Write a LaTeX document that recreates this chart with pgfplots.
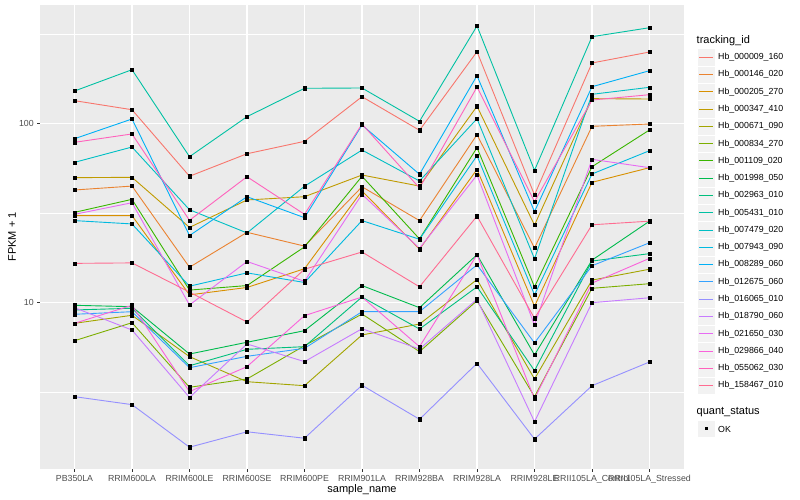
\documentclass[border=0pt]{standalone}
\usepackage{fontspec}
\setmainfont{Liberation Sans}
\usepackage{pgfplots}
\usepackage{pgfplotstable}
\pgfplotsset{compat=1.18}

\definecolor{ggpanel}{HTML}{EBEBEB}
\definecolor{ggkey}{HTML}{F2F2F2}
\definecolor{gg30}{HTML}{4D4D4D}
\definecolor{gg20}{HTML}{333333}
\definecolor{c1}{HTML}{F8766D}
\definecolor{c2}{HTML}{EA8331}
\definecolor{c3}{HTML}{D89000}
\definecolor{c4}{HTML}{C09B00}
\definecolor{c5}{HTML}{A3A500}
\definecolor{c6}{HTML}{7CAE00}
\definecolor{c7}{HTML}{39B600}
\definecolor{c8}{HTML}{00BB4E}
\definecolor{c9}{HTML}{00BF7D}
\definecolor{c10}{HTML}{00C1A3}
\definecolor{c11}{HTML}{00BFC4}
\definecolor{c12}{HTML}{00BAE0}
\definecolor{c13}{HTML}{00B0F6}
\definecolor{c14}{HTML}{35A2FF}
\definecolor{c15}{HTML}{9590FF}
\definecolor{c16}{HTML}{C77CFF}
\definecolor{c17}{HTML}{E76BF3}
\definecolor{c18}{HTML}{FA62DB}
\definecolor{c19}{HTML}{FF62BC}
\definecolor{c20}{HTML}{FF6C91}

\newcommand\tickfont{\fontsize{8.8bp}{10bp}\selectfont}
\newcommand\titlefont{\fontsize{11bp}{13bp}\selectfont}

% one legend key: row, colour, label
\newcommand\legitem[3]{%
  \pgfmathsetmacro\yy{500-57.3-17.28*#1}%
  \filldraw[fill=ggkey, draw=white, line width=0.5bp]
    (697.5bp,\yy bp-8.64bp) rectangle (714.8bp,\yy bp+8.64bp);
  \draw[draw=#2, line width=1bp] (699bp,\yy bp) -- (713.3bp,\yy bp);
  \node[font=\tickfont, anchor=west, inner sep=0pt] at (718bp,\yy bp) {#3};
}

% FPKM + 1, one column per tracking_id, one row per sample
\pgfplotstableread{
x s1 s2 s3 s4 s5 s6 s7 s8 s9 s10 s11 s12 s13 s14 s15 s16 s17 s18 s19 s20
0 133.8 42.4 30.5 49.7 7.63 6.10 31.8 9.62 9.06 151.5 60.5 28.6 82.0 8.57 2.97 9.33 31.0 7.63 78.3 16.5
1 119.1 44.6 30.5 49.9 8.46 7.69 37.6 9.45 9.26 199.3 73.7 27.4 105.7 8.86 2.68 7.00 36.0 9.62 87.2 16.6
2 50.6 15.7 11.0 26.2 4.97 3.35 11.7 5.14 4.42 65.1 32.9 12.3 23.6 4.31 1.55 2.94 9.66 3.17 28.7 11.4
3 67.6 24.6 12.1 37.3 3.60 3.73 12.4 5.98 5.46 108.9 24.4 14.6 38.9 4.99 1.89 5.85 16.9 4.37 50.3 7.76
4 79.3 20.6 15.4 38.9 3.42 5.72 20.4 6.94 5.65 156.9 44.5 12.9 29.7 5.53 1.74 4.66 13.1 8.42 31.0 15.3
5 140.8 44.2 41.9 51.4 6.57 8.60 50.6 12.4 10.7 157.5 70.9 28.6 97.8 8.86 3.44 7.12 40.1 10.7 99.0 19.1
6 91.4 28.6 19.8 44.6 7.56 5.30 22.6 9.33 7.09 102.6 47.6 22.5 51.9 8.86 2.22 5.48 20.0 5.65 43.5 12.2
7 251.2 86.4 55.3 124.5 13.4 10.2 73.1 18.45 12.2 349.7 106.1 65.9 184.5 16.2 4.56 10.4 51.4 18.45 159.5 30.3
8 39.8 20.1 9.5 27.0 3.73 2.97 12.2 5.08 4.15 54.6 17.5 11.0 32.1 5.93 1.72 2.15 7.47 2.89 36.5 8.14
9 217.3 96.2 46.8 137.3 13.3 11.97 57.2 17.2 17.0 304.7 145.2 52.1 160.1 16.0 3.42 9.95 62.9 12.8 134.9 27.1
10 250.2 99.1 56.5 136.7 15.3 12.7 91.8 28.4 18.7 342.1 158.9 70.3 196.8 21.5 4.64 10.6 56.5 17.6 144.5 28.4
}\fpkm

\begin{document}
\begin{tikzpicture}
\path[use as bounding box] (0,0) rectangle (800bp,500bp);
\begin{axis}[
    at={(40bp,31bp)}, anchor=south west,
    scale only axis, width=644bp, height=464bp,
    xmin=-0.6, xmax=10.6,
    ymode=log, ymin=1.171, ymax=458.1,
    axis background/.style={fill=ggpanel},
    axis line style={draw=none},
    xtick={0,...,10},
    xticklabels={PB350LA,RRIM600LA,RRIM600LE,RRIM600SE,RRIM600PE,RRIM901LA,RRIM928BA,RRIM928LA,RRIM928LE,RRII105LA\_Control,RRII105LA\_Stressed},
    ytick={10,100}, yticklabels={10,100},
    minor y tick style={draw=none},
    extra y ticks={3.1623,31.623,316.23}, extra y tick labels={},
    extra y tick style={major tick length=0pt, grid=major,
        major grid style={white, line width=0.53bp}},
    grid=major, major grid style={white, line width=1.07bp},
    tick align=outside, tick pos=left,
    major tick length=2.75bp,
    tick style={gg20, line width=0.53bp},
    ticklabel style={font=\tickfont, text=gg30},
    /pgf/number format/assume math mode=true,
]
\pgfplotsinvokeforeach{1,...,20}{
  \addplot[color=c#1, line width=0.9bp, mark=none, line join=round]
    table[x=x, y=s#1] {\fpkm};
}
\pgfplotsinvokeforeach{1,...,20}{
  \addplot[only marks, mark=square*, mark size=1.6bp, black]
    table[x=x, y=s#1] {\fpkm};
}
\end{axis}

\node[font=\titlefont] at (362bp,10.7bp) {sample\_name};
\node[font=\titlefont, rotate=90] at (12bp,263bp) {FPKM + 1};

% legend
\node[font=\titlefont, anchor=west, inner sep=0pt] at (696.5bp,459.3bp) {tracking\_id};
\legitem{0}{c1}{Hb\_000009\_160}
\legitem{1}{c2}{Hb\_000146\_020}
\legitem{2}{c3}{Hb\_000205\_270}
\legitem{3}{c4}{Hb\_000347\_410}
\legitem{4}{c5}{Hb\_000671\_090}
\legitem{5}{c6}{Hb\_000834\_270}
\legitem{6}{c7}{Hb\_001109\_020}
\legitem{7}{c8}{Hb\_001998\_050}
\legitem{8}{c9}{Hb\_002963\_010}
\legitem{9}{c10}{Hb\_005431\_010}
\legitem{10}{c11}{Hb\_007479\_020}
\legitem{11}{c12}{Hb\_007943\_090}
\legitem{12}{c13}{Hb\_008289\_060}
\legitem{13}{c14}{Hb\_012675\_060}
\legitem{14}{c15}{Hb\_016065\_010}
\legitem{15}{c16}{Hb\_018790\_060}
\legitem{16}{c17}{Hb\_021650\_030}
\legitem{17}{c18}{Hb\_029866\_040}
\legitem{18}{c19}{Hb\_055062\_030}
\legitem{19}{c20}{Hb\_158467\_010}
\node[font=\titlefont, anchor=west, inner sep=0pt] at (696.5bp,87.7bp) {quant\_status};
\filldraw[fill=ggkey, draw=white, line width=0.5bp] (697.5bp,62.4bp) rectangle (714.8bp,79.6bp);
\fill[black] (704.6bp,69.5bp) rectangle (707.6bp,72.5bp);
\node[font=\tickfont, anchor=west, inner sep=0pt] at (718bp,71bp) {OK};
\end{tikzpicture}
\end{document}
